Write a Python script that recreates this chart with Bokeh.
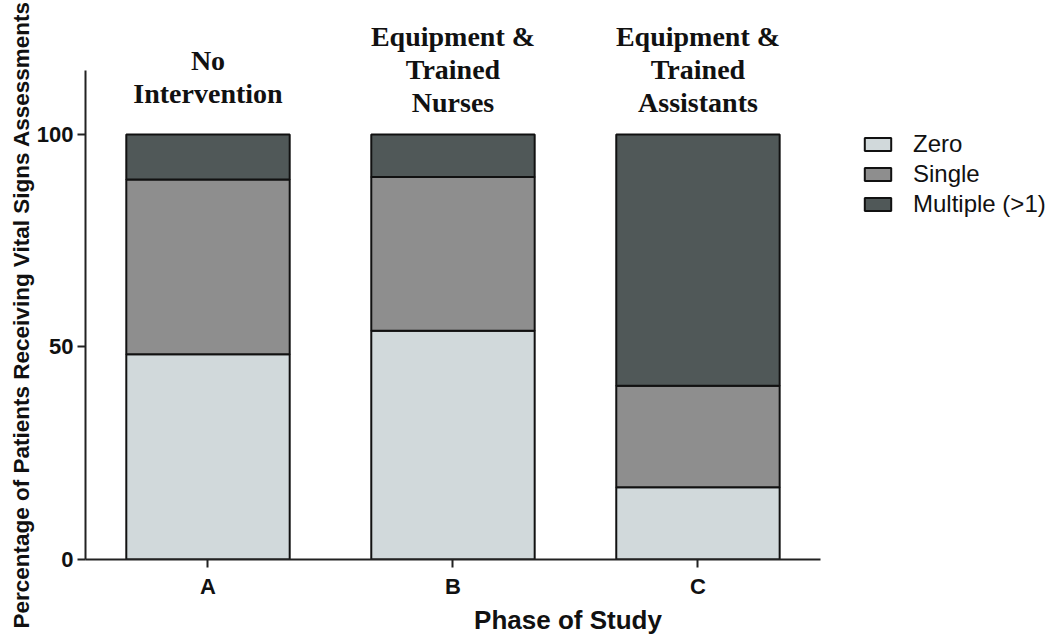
import numpy as np
from bokeh.plotting import figure
from bokeh.models import Range1d, Legend, LegendItem, Label, FixedTicker, Title
from bokeh.embed import file_html
from bokeh.resources import INLINE

# ---- data ----
phases = ["A", "B", "C"]
zero = [48.3, 53.8, 17.0]
single = [41.1, 36.2, 23.9]
multiple = [10.6, 10.0, 59.1]
series = ["Zero", "Single", "Multiple (>1)"]
phase_titles = [
    ["No", "Intervention"],
    ["Equipment &", "Trained", "Nurses"],
    ["Equipment &", "Trained", "Assistants"],
]
y_ticks = [0, 50, 100]
y_label = "Percentage of Patients Receiving Vital Signs Assessments"
x_label = "Phase of Study"

colors = ["#d1d9db", "#8e8e8e", "#505858"]

pos = (np.arange(len(phases)) + 0.5).tolist()
src = dict(pos=pos, zero=zero, single=single, multiple=multiple)

p = figure(
    width=1050, height=639,
    x_range=Range1d(0, 3.939),
    y_range=Range1d(0, 131.5),
    output_backend="svg", toolbar_location=None,
    min_border_left=85, min_border_top=0, min_border_bottom=80, min_border_right=0,
)
p.outline_line_color = None
p.xgrid.visible = False
p.ygrid.visible = False

renderers = p.vbar_stack(
    ["zero", "single", "multiple"], x="pos", width=0.667, source=src,
    fill_color=colors, line_color="#111111", line_width=2,
)

legend = Legend(
    items=[LegendItem(label=s, renderers=[r]) for s, r in zip(series, renderers)],
    location=(776, 341), margin=0, padding=0,
    glyph_width=33, glyph_height=16, label_height=20, spacing=2,
    label_text_font="Liberation Sans", label_text_font_size="24px",
    label_text_color="#111111",
    label_standoff=19, border_line_alpha=0, background_fill_alpha=0,
)
p.add_layout(legend, "center")

# axes
for ax in (p.xaxis[0], p.yaxis[0]):
    ax.axis_line_width = 2
    ax.axis_line_color = "#222222"
    ax.major_tick_line_width = 2
    ax.major_tick_line_color = "#222222"
    ax.major_tick_out = 8
    ax.major_tick_in = 0
    ax.minor_tick_line_color = None
    ax.major_label_text_font = "Liberation Sans"
    ax.major_label_text_font_style = "bold"
    ax.major_label_text_font_size = "22px"
    ax.major_label_text_color = "#111111"
    ax.major_label_text_line_height = 1.0
    ax.axis_label_text_font = "Liberation Sans"
    ax.axis_label_text_font_style = "bold"
    ax.axis_label_text_color = "#111111"
    ax.axis_label_text_line_height = 1.0

p.yaxis.ticker = FixedTicker(ticks=y_ticks)
p.yaxis.bounds = (0, 115)
p.yaxis.major_label_standoff = 4

p.xaxis.ticker = FixedTicker(ticks=pos)
p.xaxis.major_label_overrides = {x: lab for x, lab in zip(pos, phases)}
p.xaxis.bounds = (0, len(phases))
p.xaxis.axis_label = x_label
p.xaxis.axis_label_text_font_size = "26px"
p.xaxis.axis_label_standoff = 3
p.xaxis.major_label_standoff = 6

# rotated y-axis title, placed in the left panel
p.add_layout(Title(
    text=y_label, align="left", offset=-69, standoff=0,
    text_font="Liberation Sans", text_font_style="bold",
    text_font_size="22.5px", text_color="#111111",
), "left")

# titles above the bars (Times-like bold serif)
line_step = 33 / 4.25
for xi, lines in zip(pos, phase_titles):
    base = 107.5 if len(lines) == 3 else 109.6
    n = len(lines)
    for k, txt in enumerate(lines):
        p.add_layout(Label(
            x=xi, y=base + (n - 1 - k) * line_step,
            text=txt, text_align="center", text_baseline="alphabetic",
            text_font="Liberation Serif", text_font_style="bold",
            text_font_size="28px", text_color="#111111",
        ))

open("out.html", "w").write(file_html(p, INLINE))
